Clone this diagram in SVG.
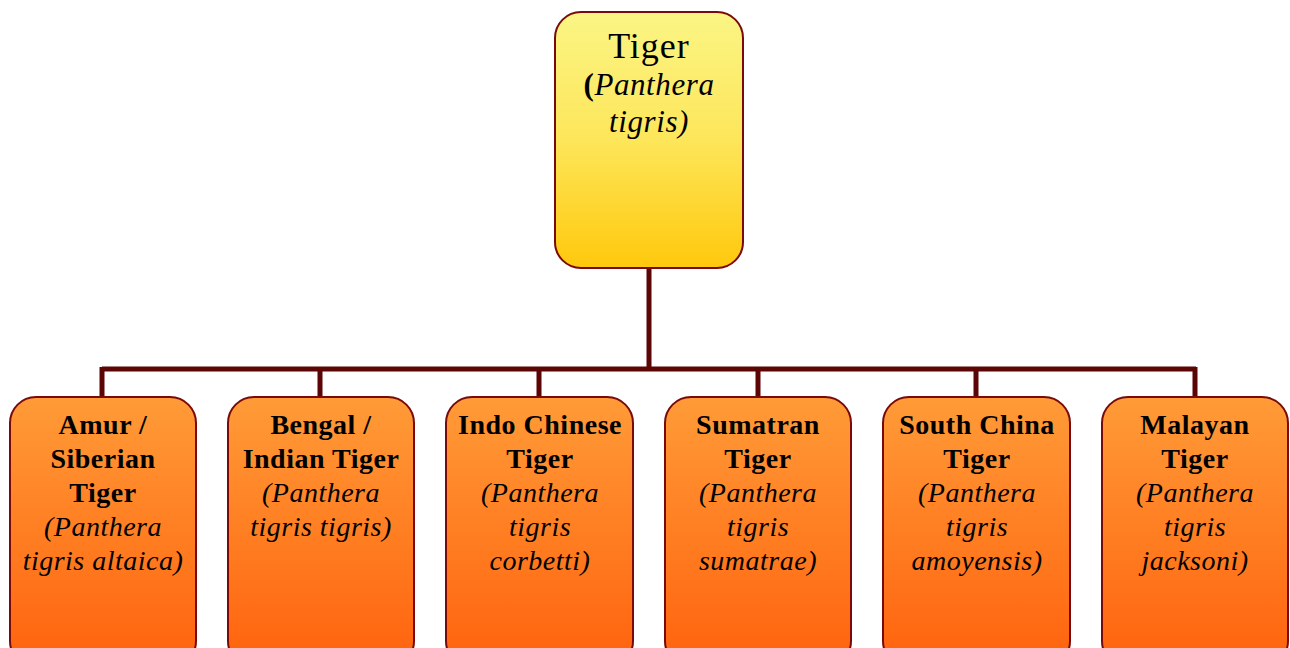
<svg xmlns="http://www.w3.org/2000/svg" width="1290" height="648" viewBox="0 0 1290 648">
<defs>
<linearGradient id="gTop" x1="0" y1="0" x2="0" y2="1">
<stop offset="0" stop-color="#fbf585"/>
<stop offset="0.5" stop-color="#fde65a"/>
<stop offset="1" stop-color="#ffc80c"/>
</linearGradient>
<linearGradient id="gChild" gradientUnits="userSpaceOnUse" x1="0" y1="397" x2="0" y2="648">
<stop offset="0" stop-color="#ff9b38"/>
<stop offset="1" stop-color="#ff6610"/>
</linearGradient>
<style>
.top{fill:url(#gTop);stroke:#7a0a0a;stroke-width:2}
.child{fill:url(#gChild);stroke:#7a0a0a;stroke-width:2}
.conn{stroke:#5c0505;stroke-width:5;fill:none}
text{font-family:"Liberation Serif","Times New Roman",serif;text-anchor:middle;fill:#000}
.b{font-weight:bold;font-size:28px;letter-spacing:0.5px}
.i{font-style:italic;font-size:28px;letter-spacing:0.5px}
</style>
</defs>
<g id="connectors">
<path class="conn" d="M649,268 V369 M102,369 H1196 M102,367 V397 M320,367 V397 M539,367 V397 M758,367 V397 M976,367 V397 M1195,367 V397"/>
</g>
<g id="tiger">
<rect class="top" x="555" y="12" width="188" height="256" rx="26"/>
<text x="649" y="58" font-size="36" letter-spacing="1">Tiger</text>
<text x="649" y="95" font-size="31" letter-spacing="0.6"><tspan font-weight="bold">(</tspan><tspan font-style="italic">Panthera</tspan></text>
<text x="649" y="132" font-size="31" letter-spacing="0.6" font-style="italic">tigris)</text>
</g>
<g id="amur">
<rect class="child" x="10" y="397" width="186" height="270" rx="26"/>
<text x="103" y="434" class="b">Amur /</text>
<text x="103" y="468" class="b">Siberian</text>
<text x="103" y="502" class="b">Tiger</text>
<text x="103" y="536" class="i">(Panthera</text>
<text x="103" y="570" class="i">tigris altaica)</text>
</g>
<g id="bengal">
<rect class="child" x="228" y="397" width="186" height="270" rx="26"/>
<text x="321" y="434" class="b">Bengal /</text>
<text x="321" y="468" class="b">Indian Tiger</text>
<text x="321" y="502" class="i">(Panthera</text>
<text x="321" y="536" class="i">tigris tigris)</text>
</g>
<g id="indochinese">
<rect class="child" x="446" y="397" width="187" height="270" rx="26"/>
<text x="540" y="434" class="b">Indo Chinese</text>
<text x="540" y="468" class="b">Tiger</text>
<text x="540" y="502" class="i">(Panthera</text>
<text x="540" y="536" class="i">tigris</text>
<text x="540" y="570" class="i">corbetti)</text>
</g>
<g id="sumatran">
<rect class="child" x="665" y="397" width="186" height="270" rx="26"/>
<text x="758" y="434" class="b">Sumatran</text>
<text x="758" y="468" class="b">Tiger</text>
<text x="758" y="502" class="i">(Panthera</text>
<text x="758" y="536" class="i">tigris</text>
<text x="758" y="570" class="i">sumatrae)</text>
</g>
<g id="southchina">
<rect class="child" x="883" y="397" width="187" height="270" rx="26"/>
<text x="977" y="434" class="b">South China</text>
<text x="977" y="468" class="b">Tiger</text>
<text x="977" y="502" class="i">(Panthera</text>
<text x="977" y="536" class="i">tigris</text>
<text x="977" y="570" class="i">amoyensis)</text>
</g>
<g id="malayan">
<rect class="child" x="1102" y="397" width="186" height="270" rx="26"/>
<text x="1195" y="434" class="b">Malayan</text>
<text x="1195" y="468" class="b">Tiger</text>
<text x="1195" y="502" class="i">(Panthera</text>
<text x="1195" y="536" class="i">tigris</text>
<text x="1195" y="570" class="i">jacksoni)</text>
</g>
</svg>
